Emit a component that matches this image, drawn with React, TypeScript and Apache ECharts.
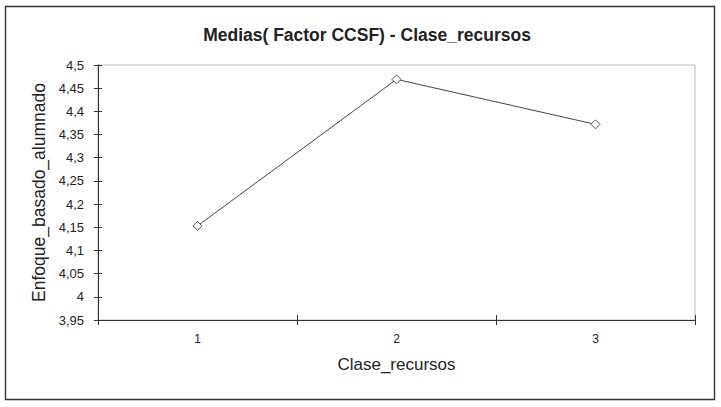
import React, { useEffect, useRef } from "react";
import * as echarts from "echarts";

const categories = ["1", "2", "3"];
const meanValues = [4.153, 4.469, 4.372];
const yMin = 3.95;
const yMax = 4.5;
const yStep = 0.05;

const FONT = "Liberation Sans, Arial, sans-serif";

export default function App() {
  const ref = useRef<HTMLDivElement>(null);
  useEffect(() => {
    document.body.style.margin = "0";
    const chart = echarts.init(ref.current!, null, { renderer: "svg" });
    const fmt = (v: number) => parseFloat(v.toFixed(2)).toString().replace(".", ",");
    chart.setOption({
      animation: false,
      backgroundColor: "#ffffff",
      title: {
        text: "Medias( Factor CCSF) - Clase_recursos",
        left: 362,
        top: 21,
        textAlign: "center",
        textStyle: { fontFamily: FONT, fontSize: 17.5, fontWeight: "bold", color: "#222" },
      },
      graphic: [
        {
          type: "rect",
          shape: { x: 5.5, y: 6.5, width: 709, height: 393 },
          style: { fill: "none", stroke: "#333", lineWidth: 1.4 },
          silent: true,
        },
      ],
      grid: {
        left: 98,
        top: 65,
        right: 26,
        bottom: 87,
        show: true,
        borderColor: "#bdbdbd",
        borderWidth: 1,
        backgroundColor: "#fff",
      },
      xAxis: [
        {
          type: "category",
          data: categories,
          boundaryGap: true,
          position: "bottom",
          axisLine: { show: true, lineStyle: { color: "#333", width: 1 } },
          axisTick: { show: true, length: 5, lineStyle: { color: "#333" } },
          axisLabel: { margin: 13, fontFamily: FONT, fontSize: 12, color: "#222" },
          name: "Clase_recursos",
          nameLocation: "middle",
          nameGap: 36,
          nameTextStyle: { fontFamily: FONT, fontSize: 17, color: "#222" },
          splitLine: { show: false },
        },
        {
          type: "category",
          data: categories,
          boundaryGap: true,
          position: "bottom",
          axisLine: { show: false },
          axisTick: { show: true, inside: true, length: 5, lineStyle: { color: "#333" } },
          axisLabel: { show: false },
          splitLine: { show: false },
        },
      ],
      yAxis: [
        {
          type: "value",
          min: yMin,
          max: yMax,
          interval: yStep,
          axisLine: { show: true, lineStyle: { color: "#333", width: 1 } },
          axisTick: { show: true, length: 4, lineStyle: { color: "#333" } },
          axisLabel: { margin: 14, fontFamily: FONT, fontSize: 13, color: "#222", formatter: fmt },
          splitLine: { show: false },
          name: "Enfoque_basado_alumnado",
          nameLocation: "middle",
          nameGap: 48,
          nameTextStyle: { fontFamily: FONT, fontSize: 17.5, color: "#222" },
        },
        {
          type: "value",
          min: yMin,
          max: yMax,
          interval: yStep,
          position: "left",
          axisLine: { show: false },
          axisTick: { show: true, inside: true, length: 4, lineStyle: { color: "#333" } },
          axisLabel: { show: false },
          splitLine: { show: false },
        },
      ],
      series: [
        {
          type: "line",
          data: meanValues,
          xAxisIndex: 0,
          yAxisIndex: 0,
          symbol: "diamond",
          symbolSize: 9,
          showAllSymbol: true,
          lineStyle: { color: "#444", width: 1 },
          itemStyle: { color: "#fff", borderColor: "#555", borderWidth: 1 },
        },
      ],
    });
    return () => chart.dispose();
  }, []);
  return <div ref={ref} style={{ width: 721, height: 407 }} />;
}
